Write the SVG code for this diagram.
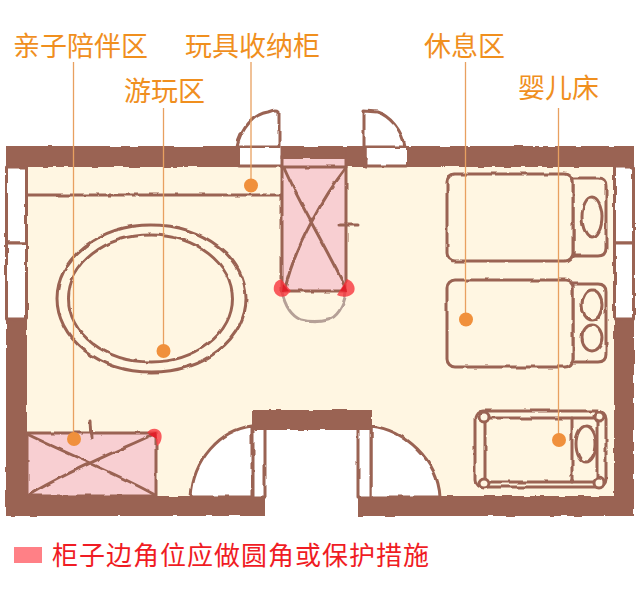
<svg xmlns="http://www.w3.org/2000/svg" width="640" height="596" viewBox="0 0 640 596">
<style>
.l{fill:#F08F1E;font-family:"Noto Sans CJK SC","Noto Sans",sans-serif;font-size:27px}
.r{fill:#F01C24;font-family:"Noto Sans CJK SC","Noto Sans",sans-serif;font-size:26px;letter-spacing:1px}
.w{fill:#9A6353;stroke:#9A6353;stroke-width:1}
.s{fill:none;stroke:#9A6353;stroke-width:3;stroke-linecap:round;stroke-linejoin:round}
.sf{fill:#FFF6E2;stroke:#9A6353;stroke-width:3;stroke-linejoin:round}
.wf{fill:#fff;stroke:#9A6353;stroke-width:3;stroke-linejoin:round}
.c{fill:#F8CFD2;stroke:#9A6353;stroke-width:3}
.lead{stroke:#E8A060;stroke-width:1.3;fill:none}
.dot{fill:#F0903C}
.red{fill:#F8343C;fill-opacity:.8}
.redd{fill:#E0202A}
</style>
<defs>
<filter id="wob" x="-3%" y="-3%" width="106%" height="106%"><feTurbulence type="fractalNoise" baseFrequency="0.07" numOctaves="2" seed="4"/><feDisplacementMap in="SourceGraphic" scale="3.2" xChannelSelector="R" yChannelSelector="G"/><feGaussianBlur stdDeviation="0.4"/></filter>
</defs>
<rect width="640" height="596" fill="#fff"/>
<g id="plan" filter="url(#wob)">
<g id="floor"><rect x="26" y="166" width="589" height="331" fill="#FFF6E2"/></g>
<g id="doors">
<path class="wf" d="M237 147C241 128 254 114 268 112C273 110 277 109 279 111L279 147Z"/>
<path class="wf" d="M364 147V111L377 112C390 116 402 130 405 147Z"/>
<rect x="240" y="148" width="40" height="18" fill="#fff"/>
<rect x="366" y="148" width="40" height="18" fill="#fff"/>
<path class="wf" d="M191 497C193 460 220 430 252 426V497Z"/>
<path class="wf" d="M371 426C405 430 438 460 440 497H371Z"/>
<rect x="265" y="428" width="93" height="90" fill="#fff"/>
<rect class="wf" x="253" y="428" width="12" height="69"/>
<rect class="wf" x="358" y="428" width="13" height="69"/>
</g>
<g id="cabinet-top">
<path class="s" d="M301 320C292 316 285 306 282 292M327 320C337 318 344 306 346 292M301 320C309 322 319 322 327 320" style="stroke:#B5A097"/>
<rect class="c" x="282" y="156" width="64" height="135"/>
<path class="s" d="M282 167H346M284 168C300 205 325 245 346 289M346 168C325 195 295 245 285 289M340 225H358"/>
</g>
<g id="walls">
<rect class="w" x="6.500" y="146.500" width="233" height="20"/>
<rect class="w" x="281" y="146.500" width="85" height="12"/>
<rect class="w" x="346" y="146.500" width="20" height="20"/>
<rect class="w" x="406.500" y="146.500" width="227" height="20"/>
<rect class="w" x="6.500" y="318.500" width="20" height="197"/>
<rect class="w" x="614.500" y="318.500" width="19" height="197"/>
<rect class="w" x="6.500" y="496.500" width="258" height="19"/>
<rect class="w" x="358.500" y="496.500" width="275" height="19"/>
<rect class="w" x="252.500" y="410.500" width="119" height="19"/>
<rect class="wf" x="6.500" y="167" width="20" height="76"/>
<rect class="wf" x="6.500" y="243" width="20" height="76"/>
<rect class="wf" x="614.500" y="167" width="19" height="76"/>
<rect class="wf" x="614.500" y="243" width="19" height="76"/>
<path class="s" d="M27 195H281M240 166H281M366 166H406"/>
</g>
<g id="cabinet-left">
<rect class="c" x="27" y="433" width="129" height="63"/>
<path class="s" d="M29 435C70 455 120 475 155 495M29 495C70 470 120 450 152 435M90 421L91 438"/>
</g>
<g id="play-rug">
<ellipse class="s" cx="151.500" cy="298.500" rx="94.500" ry="73.500"/>
<ellipse class="s" cx="150.500" cy="298.500" rx="82" ry="63.500"/>
</g>
<g id="bed-1">
<path class="sf" d="M573 178H598Q606 178 606 186V248Q606 256 598 256H573Z"/>
<rect class="sf" x="447" y="174" width="126" height="87" rx="8"/>
<ellipse class="s" cx="592" cy="217" rx="10" ry="20"/>
</g>
<g id="bed-2">
<path class="sf" d="M573 284H598Q606 284 606 292V354Q606 362 598 362H573Z"/>
<rect class="sf" x="447" y="280" width="126" height="87" rx="8"/>
<ellipse class="s" cx="592" cy="305" rx="10" ry="15"/>
<ellipse class="s" cx="592" cy="338" rx="10" ry="13"/>
</g>
<g id="crib">
<rect class="sf" x="475" y="411" width="131" height="76" rx="8"/>
<rect class="sf" x="485" y="418" width="112" height="64"/>
<path class="s" d="M572 418V482"/>
<ellipse class="s" cx="586" cy="444" rx="10" ry="18"/>
<circle class="sf" cx="484" cy="417" r="5"/><circle class="sf" cx="599" cy="417" r="5"/><circle class="sf" cx="484" cy="483" r="5"/><circle class="sf" cx="599" cy="483" r="5"/>
</g>
</g>
<g id="corner-marks">
<path class="red" d="M281 279C275 281 273 286 274 291C276 296 281 298 286 296L291 291Z"/>
<path class="redd" d="M283 284L289 291L282 292Z"/>
<path class="red" d="M347 279C353 281 356 287 354 292C351 297 343 298 337 295Z"/>
<path class="redd" d="M345 284L340 291L347 292Z"/>
<path class="red" d="M147 433C150 428 158 427 161 433C163 438 160 445 157 446L155 434Z"/>
<path class="redd" d="M148 434L156 432L157 439Z"/>
</g>
<g id="connectors">
<path class="lead" d="M73.500 62V437M163.500 108V350M251 62V185M465.500 62V319M558.500 108V439"/>
</g>
<g id="markers">
<circle class="dot" cx="251" cy="185.500" r="7"/>
<circle class="dot" cx="163.500" cy="351" r="7"/>
<circle class="dot" cx="74" cy="439" r="7"/>
<circle class="dot" cx="466" cy="319.500" r="7"/>
<circle class="dot" cx="559" cy="440" r="7"/>
</g>
<g id="labels">
<text class="l" x="13" y="56">亲子陪伴区</text>
<text class="l" x="185" y="56">玩具收纳柜</text>
<text class="l" x="424" y="56">休息区</text>
<text class="l" x="124" y="101">游玩区</text>
<text class="l" x="518" y="98">婴儿床</text>
</g>
<g id="legend">
<rect x="14" y="547" width="28" height="16" fill="#FF8086"/>
<text class="r" x="52" y="565">柜子边角位应做圆角或保护措施</text>
</g>
</svg>
